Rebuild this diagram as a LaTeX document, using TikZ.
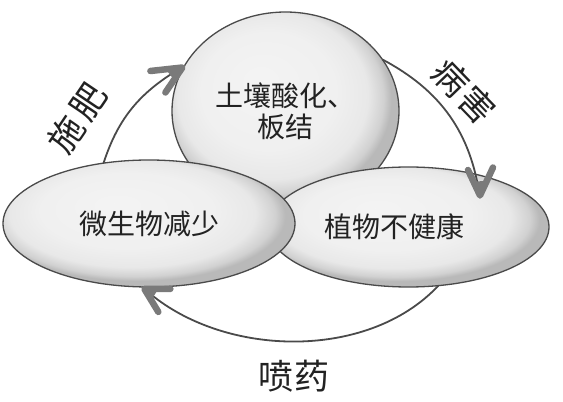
\documentclass[tikz,border=0pt]{standalone}
\usepackage{fontspec}
\newfontfamily\cjk{Noto Sans CJK SC}
\usetikzlibrary{shapes.geometric,calc}
\definecolor{edgegray}{HTML}{4A4A4A}
\definecolor{linegray}{HTML}{4A4A4A}
\definecolor{headgray}{HTML}{7A7A7A}
\definecolor{txt}{HTML}{222222}
\pgfdeclareradialshading{bevel}{\pgfpoint{-6bp}{8bp}}{color(0bp)=(gray!9); color(15bp)=(gray!12); color(21bp)=(gray!18); color(24bp)=(gray!36); color(25.5bp)=(gray!55); color(40bp)=(gray!55)}
\begin{document}
\begin{tikzpicture}[x=1pt,y=1pt,
  blob/.style={ellipse, draw=edgegray, line width=1.3pt, shading=bevel,
    inner sep=0pt, outer sep=0pt, text=txt, align=center,
    font=\cjk\fontsize{28}{31}\selectfont},
  cyc/.style={draw=linegray, line width=1.8pt},
  head/.style={draw=headgray, line width=6.5pt, line cap=round, line join=round},
  headfill/.style={fill=headgray},
  lab/.style={font=\cjk\fontsize{35}{40}\selectfont, text=txt, inner sep=0pt}]
\fill[white] (0,0) rectangle (563,402);
\useasboundingbox (0,0) rectangle (563,402);
% shapes
\node[blob, minimum width=227pt, minimum height=198pt] (T) at (285.5,291) {土壤酸化、\\板结};
\node[blob, minimum width=281pt, minimum height=120pt] (R) at (408.5,175) {植物不健康\hspace*{28pt}};
\node[blob, minimum width=292pt, minimum height=127pt] (L) at (149,178.5) {微生物减少};
% labels
\node[lab, rotate=56] (fei) at (77,284) {施\hspace{4pt}肥};
\node[lab, rotate=-46] (hai) at (464,310.5) {病\hspace{3pt}害};
\node[lab] (yao) at (294,25.5) {喷\hspace{2pt}药};
% cycle arrows
\coordinate (tipB) at (480,204);
\draw[cyc] (L.127) to[out=72,in=210] (T.156);
\draw[head] (T.156) ++(-34,-5) -- ($(T.156)+(-2,-1.5)$) -- ++(-17,-25);
\fill[headfill] ($(T.156)+(-2,-1.5)$) -- ++(-16,-2.5) -- ++(7,-9) -- cycle;
\draw[cyc] (T.28) to[out=-28,in=98] (tipB);
\draw[head] (tipB) ++(-12,28) -- ($(tipB)+(0,2.5)$) -- ++(13,28);
\fill[headfill] ($(tipB)+(0,2.5)$) -- ++(-6,14) -- ++(12.5,0.5) -- cycle;
\draw[cyc] (R.297) to[out=227,in=-43,looseness=0.9] (L.264);
\draw[head] (L.264) ++(28,-2) -- ($(L.264)+(2,-2)$) -- ++(14,-23);
\fill[headfill] ($(L.264)+(2,-2)$) -- ++(14,0) -- ++(-7,-11) -- cycle;
\end{tikzpicture}
\end{document}
